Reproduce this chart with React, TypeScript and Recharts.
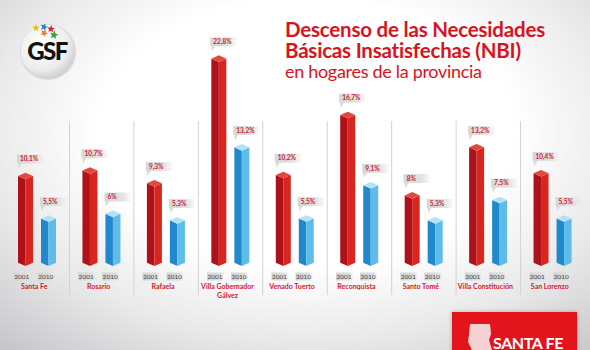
import React from "react";
import { Bar, BarChart, LabelList, XAxis, YAxis } from "recharts";

const cities = [
  "Santa Fe",
  "Rosario",
  "Rafaela",
  "Villa Gobernador Gálvez",
  "Venado Tuerto",
  "Reconquista",
  "Santo Tomé",
  "Villa Constitución",
  "San Lorenzo",
];
const nbi2001 = [10.1, 10.7, 9.3, 22.8, 10.2, 16.7, 8, 13.2, 10.4];
const nbi2010 = [5.5, 6, 5.3, 13.2, 5.5, 9.1, 5.3, 7.5, 5.5];
const years = ["2001", "2010"];

const data = cities.map((city, i) => ({ city, a: nbi2001[i], b: nbi2010[i] }));

const W = 590;
const H = 350;
const margin = { top: 35, right: 5, bottom: 54, left: 5 };
const BAND = (W - margin.left - margin.right) / cities.length;
const BAR = 15;
const GAP = 8;

const RED = { left: "#ad121b", right: "#d8261e", top: "#e5473c" };
const BLUE = { left: "#2288cc", right: "#5dbde8", top: "#b3e2f6" };

const fmt = (v: number) => String(v).replace(".", ",") + "%";

function Prism(props: any) {
  const { x, y, width, height, tone } = props;
  if (!height || height <= 0) return null;
  const w = width;
  const d = w * 0.22;
  const b = y + height;
  const m = x + w / 2;
  return (
    <g>
      <polygon points={`${x},${y + d} ${m},${y + 2 * d} ${m},${b} ${x},${b - d}`} fill={tone.left} />
      <polygon points={`${m},${y + 2 * d} ${x + w},${y + d} ${x + w},${b - d} ${m},${b}`} fill={tone.right} />
      <polygon points={`${x},${y + d} ${m},${y} ${x + w},${y + d} ${m},${y + 2 * d}`} fill={tone.top} />
    </g>
  );
}

function Callout(props: any) {
  const { x, y, value } = props;
  return (
    <g>
      <rect x={x - 1} y={y - 18} width={26} height={9} fill="url(#calloutGrad)" />
      <polygon points={`${x},${y - 9.2} ${x + 4},${y - 9.2} ${x + 0.5},${y - 4}`} fill="#d9d9d9" />
      <text x={x + 2} y={y - 11.3} fontSize={6.5} fontWeight={700} fill="#c8232b" fontFamily="Lato, sans-serif">
        {fmt(value)}
      </text>
    </g>
  );
}

function CityTick(props: any) {
  const { x, y, payload } = props;
  const i = payload.index;
  const name: string = payload.value;
  const lines = name === "Villa Gobernador Gálvez" ? ["Villa Gobernador", "Gálvez"] : [name];
  const centers = [x - GAP / 2 - BAR / 2 - 4, x + GAP / 2 + BAR / 2 - 3];
  return (
    <g>
      {i > 0 && (
        <line x1={x - BAND / 2} x2={x - BAND / 2} y1={y - 145} y2={y + 29} stroke="#d2d2d4" strokeWidth={1} />
      )}
      {years.map((yr, k) => (
        <g key={yr}>
          <rect x={centers[k] - 8} y={y + 6.5} width={17} height={8} fill="url(#yearGrad)" />
          <text x={centers[k]} y={y + 13} fontSize={6.5} fill="#444" textAnchor="middle" fontFamily="Lato, sans-serif">
            {yr}
          </text>
        </g>
      ))}
      {lines.map((ln, k) => (
        <text
          key={ln}
          x={x - 3}
          y={y + 23 + k * 8.5}
          fontSize={7}
          fontWeight={700}
          fill="#d0202c"
          textAnchor="middle"
          fontFamily="Lato, sans-serif"
        >
          {ln}
        </text>
      ))}
    </g>
  );
}

function Star({ cx, cy, r, fill, rot = 0 }: { cx: number; cy: number; r: number; fill: string; rot?: number }) {
  const pts: string[] = [];
  for (let k = 0; k < 10; k++) {
    const rr = k % 2 === 0 ? r : r * 0.45;
    const a = (Math.PI / 5) * k - Math.PI / 2 + rot;
    pts.push(`${cx + rr * Math.cos(a)},${cy + rr * Math.sin(a)}`);
  }
  return <polygon points={pts.join(" ")} fill={fill} />;
}

export default function App() {
  return (
    <div
      style={{
        position: "absolute",
        left: 0,
        top: 0,
        width: W,
        height: H,
        overflow: "hidden",
        background:
          "radial-gradient(ellipse 78% 85% at 52% 38%, #ffffff 45%, #e9e9ea 70%, #c4c4c6 100%)",
      }}
    >
      <svg width={W} height={H} style={{ position: "absolute", left: 0, top: 0 }}>
        <defs>
          <radialGradient id="logoGrad" cx="40%" cy="35%" r="70%">
            <stop offset="0%" stopColor="#ffffff" />
            <stop offset="70%" stopColor="#ececec" />
            <stop offset="100%" stopColor="#c9c9c9" />
          </radialGradient>
        </defs>
        <circle cx={48} cy={52} r={28} fill="#bdbdbd" opacity={0.5} />
        <circle cx={47.5} cy={51.5} r={27} fill="url(#logoGrad)" />
        <Star cx={36} cy={28} r={4} fill="#f2c200" />
        <Star cx={44} cy={27} r={4} fill="#2a7fd0" rot={0.3} />
        <Star cx={51} cy={29} r={4} fill="#d8261e" rot={0.1} />
        <Star cx={44} cy={33} r={4} fill="#ee7d1a" rot={0.5} />
        <Star cx={54} cy={35} r={4.5} fill="#3aa23a" rot={0.2} />
        <text x={47} y={60} fontSize={24} fontWeight={900} fill="#111" textAnchor="middle" fontFamily="Lato, sans-serif" letterSpacing={-1.5}>
          GSF
        </text>
        <text x={285} y={37} fontSize={20.5} fontWeight={700} fill="#d7141d" fontFamily="Lato, sans-serif" letterSpacing={-0.2}>
          Descenso de las Necesidades
        </text>
        <text x={285} y={57.5} fontSize={20.5} fontWeight={700} fill="#d7141d" fontFamily="Lato, sans-serif" letterSpacing={-0.2}>
          Básicas Insatisfechas (NBI)
        </text>
        <text x={285} y={77.5} fontSize={18} fontWeight={400} fill="#d7141d" fontFamily="Lato, sans-serif" letterSpacing={-0.3}>
          en hogares de la provincia
        </text>
      </svg>

      <div style={{ position: "absolute", left: 0, top: 0 }}>
        <BarChart width={W} height={H} data={data} margin={margin} barSize={BAR} barGap={GAP}>
          <defs>
            <linearGradient id="calloutGrad" x1="0" y1="0" x2="1" y2="0">
              <stop offset="0%" stopColor="#d6d6d6" />
              <stop offset="70%" stopColor="#e2e2e2" />
              <stop offset="100%" stopColor="#e8e8e8" stopOpacity={0.3} />
            </linearGradient>
            <linearGradient id="yearGrad" x1="0" y1="0" x2="1" y2="0">
              <stop offset="0%" stopColor="#d2d2d2" />
              <stop offset="80%" stopColor="#dedede" />
              <stop offset="100%" stopColor="#e8e8e8" stopOpacity={0.4} />
            </linearGradient>
          </defs>
          <XAxis
            dataKey="city"
            axisLine={false}
            tickLine={false}
            tickSize={0}
            tickMargin={0}
            interval={0}
            tick={<CityTick />}
          />
          <YAxis hide domain={[0, 25]} />
          <Bar dataKey="a" isAnimationActive={false} shape={(p: any) => <Prism {...p} tone={RED} />}>
            <LabelList dataKey="a" content={<Callout />} />
          </Bar>
          <Bar dataKey="b" isAnimationActive={false} shape={(p: any) => <Prism {...p} tone={BLUE} />}>
            <LabelList dataKey="b" content={<Callout />} />
          </Bar>
        </BarChart>
      </div>

      <div
        style={{
          position: "absolute",
          left: 452,
          top: 312,
          width: 125,
          height: 45,
          background: "#e2141c",
          boxShadow: "0 0 4px rgba(0,0,0,0.25)",
        }}
      >
        <svg width={125} height={45} style={{ position: "absolute", left: 0, top: 0 }}>
          <polygon
            points="18,12 38,12 39,22 37,28 40,38 36,45 22,45 19,36 16,30 17,22"
            fill="#f4d2d4"
          />
          <text x={41} y={36.5} fontSize={16} fontWeight={700} fill="#ffffff" fontFamily="Lato, sans-serif" letterSpacing={-0.4}>
            SANTA FE
          </text>
        </svg>
      </div>
    </div>
  );
}
